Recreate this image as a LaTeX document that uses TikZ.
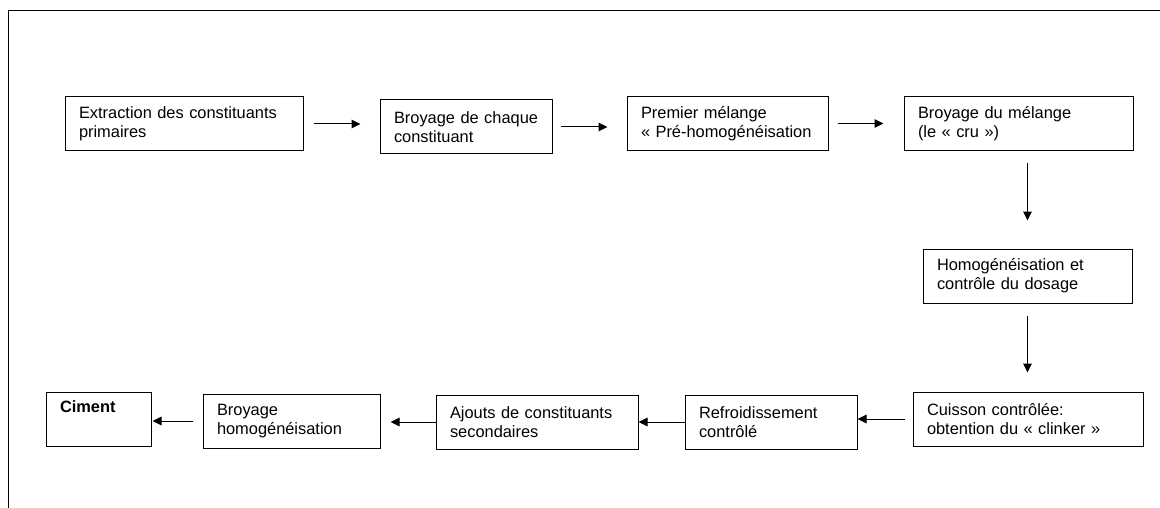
\documentclass[tikz,border=0pt]{standalone}
\usepackage{fontspec}
\setmainfont{Liberation Sans}
\usetikzlibrary{arrows.meta}
\begin{document}
\begin{tikzpicture}[x=1pt,y=-1pt,
  box/.style={draw=black, line width=1pt, rectangle, inner xsep=14pt, inner ysep=0pt,
    minimum height=54pt, align=left, font=\fontsize{16.4}{19}\selectfont},
  arr/.style={line width=1pt, -{Triangle[length=9pt,width=8.5pt]}},
  frame/.style={line width=1pt, draw=black}]
\useasboundingbox (0,0) rectangle (1160,508);
\draw[frame] (1160,10.5) -- (8.5,10.5) -- (8.5,508);
% top row
\node[box, text width=210pt] (b1) at (184,124) {\mbox{Extraction des constituants}\\primaires};
\node[box, text width=144pt] (b2) at (466,127) {\mbox{Broyage de chaque}\\constituant};
\node[box, text width=173pt] (b3) at (727.5,123.5) {\mbox{Premier mélange}\\\mbox{« Pré-homogénéisation}};
\node[box, text width=201pt] (b4) at (1018.5,123.5) {\mbox{Broyage du mélange}\\(le « cru »)};
% right column
\node[box, text width=181pt] (b5) at (1027.5,276) {\mbox{Homogénéisation et}\\\mbox{contrôle du dosage}};
\node[box, text width=202pt] (b6) at (1028,419) {\mbox{Cuisson contrôlée:}\\\mbox{obtention du « clinker »}};
% bottom row
\node[box, text width=144pt] (b7) at (771,422) {Refroidissement\\contrôlé};
\node[box, text width=174pt] (b8) at (537,422) {\mbox{Ajouts de constituants}\\secondaires};
\node[box, text width=149pt] (b9) at (291.5,421) {Broyage\\homogénéisation};
\node[box, text width=77pt] (b10) at (98.5,419) {\textbf{Ciment}\\\strut};
% connectors
\draw[arr, shorten <=10pt, shorten >=19pt] (b1.east) -- (b1.east -| b2.west);
\draw[arr, shorten <=8pt, shorten >=19pt] (b2.east) -- (b2.east -| b3.west);
\draw[arr, shorten <=9pt, shorten >=20pt] (b3.east) -- (b3.east -| b4.west);
\draw[arr, shorten <=12pt, shorten >=28pt] (b4.south -| b5.north) -- (b5.north);
\draw[arr, shorten <=12pt, shorten >=19pt] (b5.south) -- (b5.south |- b6.north);
\draw[arr, shorten <=8pt] (b6.west) -- (b6.west -| b7.east);
\draw[arr] (b7.west) -- (b7.west -| b8.east);
\draw[arr, shorten >=10pt] (b8.west) -- (b8.west -| b9.east);
\draw[arr, shorten <=10pt, shorten >=1pt] (b9.west) -- (b9.west -| b10.east);
\end{tikzpicture}
\end{document}
